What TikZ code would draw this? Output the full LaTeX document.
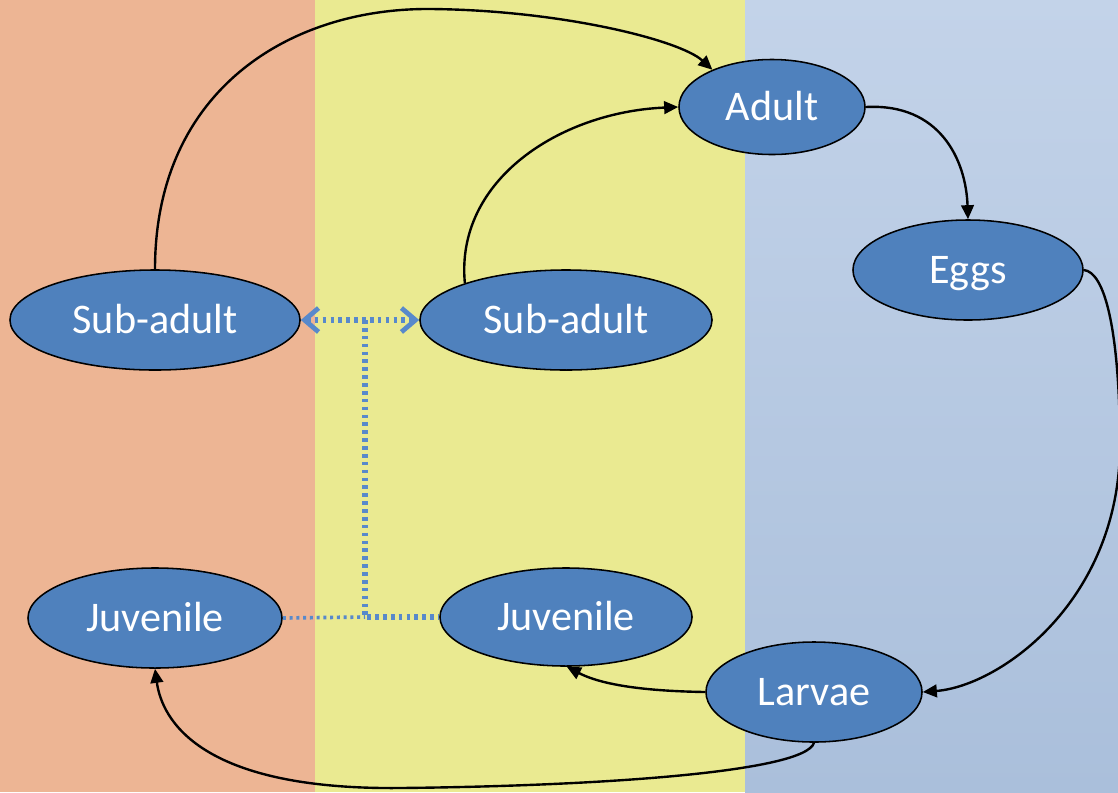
\documentclass[tikz,border=0pt]{standalone}
\usepackage{fontspec}
\setmainfont{Carlito}
\usetikzlibrary{arrows.meta,shapes.geometric}

\definecolor{zoneA}{RGB}{237,181,148}
\definecolor{zoneB}{RGB}{234,234,145}
\definecolor{zoneCtop}{RGB}{195,211,233}
\definecolor{zoneCbot}{RGB}{170,191,219}
\definecolor{stage}{RGB}{79,129,189}
\definecolor{move}{RGB}{88,137,203}

\begin{document}
\begin{tikzpicture}[x=0.025cm, y=-0.025cm,
    stage/.style={ellipse, draw=black, line width=1.1pt, fill=stage, text=white,
      inner sep=0pt, text height=19pt, text depth=0pt, font=\fontsize{30}{36}\selectfont},
    cycle/.style={black, line width=1.7pt, -{Triangle[length=10pt,width=9pt]}},
    migr/.style={move, line width=4pt, dash pattern=on 2.6pt off 3pt},
    twoway/.style={{Straight Barb[length=10pt,width=17pt,line width=3.4pt]}-{Straight Barb[length=10pt,width=17pt,line width=3.4pt]}}]
  \useasboundingbox (0,0) rectangle (1118,792);

  % three zones
  \fill[zoneA] (0,0) rectangle (315,792);
  \fill[zoneB] (315,0) rectangle (745,792);
  \shade[top color=zoneCtop, bottom color=zoneCbot] (745,0) rectangle (1118,792);

  % life stages
  \node[stage, minimum width=4.65cm, minimum height=2.375cm] (adult) at (772,107) {Adult};
  \node[stage, minimum width=5.75cm, minimum height=2.5cm] (eggs) at (968,270) {Eggs};
  \node[stage, minimum width=7.25cm, minimum height=2.5cm] (sal) at (155,320) {Sub-adult};
  \node[stage, minimum width=7.30cm, minimum height=2.5cm] (sam) at (566,320) {Sub-adult};
  \node[stage, minimum width=6.35cm, minimum height=2.5cm] (jl) at (155,618) {Juvenile};
  \node[stage, minimum width=6.30cm, minimum height=2.45cm] (jm) at (566,617) {Juvenile};
  \node[stage, minimum width=5.40cm, minimum height=2.5cm] (larvae) at (814,692) {Larvae};

  % cycle
  \draw[cycle] (sal.north) .. controls (155,90) and (290,8) .. (430,9)
    .. controls (560,10) and (680,40) .. (adult.148);
  \draw[cycle] (sam.160) .. controls (455,180) and (560,112) .. (adult.west);
  \draw[cycle] (adult.east) .. controls (940,103) and (966,160) .. (eggs.north);
  \draw[cycle] (eggs.east) .. controls (1105,272) and (1119,330) .. (1120,440)
    .. controls (1122,600) and (1000,686) .. (larvae.east);
  \draw[cycle] (larvae.west) .. controls (640,691) and (600,684) .. (jm.-89);
  \draw[cycle] (larvae.south) .. controls (805,772) and (600,786) .. (400,788)
    .. controls (200,790) and (162,720) .. (jl.south);

  % movement between zones
  \coordinate (top) at (365,320);
  \coordinate (jn) at (365,617);
  \draw[migr, twoway] (sal.east) -- (sam.west);
  \draw[migr] (top) -- (jn) -- (jm.west);
  \draw[migr, line width=2.6pt, dash pattern=on 2.2pt off 2.6pt] (jl.east) -- (jn);
\end{tikzpicture}
\end{document}
